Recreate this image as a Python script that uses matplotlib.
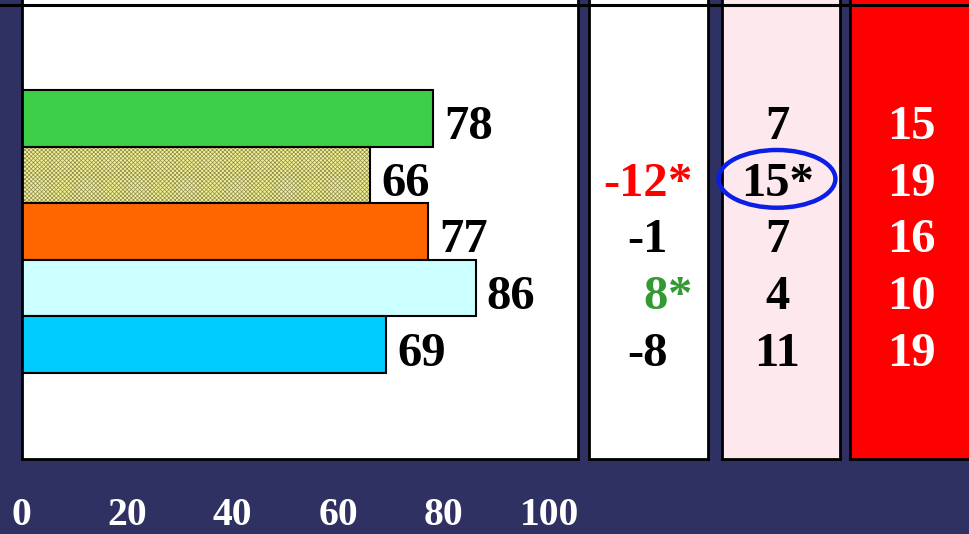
import matplotlib.pyplot as plt
from matplotlib.patches import Ellipse
from matplotlib.lines import Line2D
from matplotlib.transforms import blended_transform_factory

# data
scores = [78, 66, 77, 86, 69]
bar_colors = ['#3ecf48', '#f4f290', '#ff6600', '#ccffff', '#00ccff']
bar_hatch = [None, 'xxxxxxxx', None, None, None]
diffs = ['', '-12', '-1', '8', '-8']
diff_star = [False, True, False, True, False]
diff_colors = ['black', '#ff0000', 'black', '#339933', 'black']
col2 = ['7', '15*', '7', '4', '11']
col3 = ['15', '19', '16', '10', '19']
xticks = [0, 20, 40, 60, 80, 100]

W, H = 969, 534
BG = '#2f3163'
plt.rcParams['font.family'] = ['Liberation Serif', 'DejaVu Serif']
plt.rcParams['font.weight'] = 'bold'
plt.rcParams['hatch.linewidth'] = 0.5

fig = plt.figure(figsize=(W / 100, H / 100), dpi=100, facecolor=BG)


def box(x0, x1, ytop, ybot):
    return [x0 / W, (H - ybot) / H, (x1 - x0) / W, (ybot - ytop) / H]


ytop, ybot = -10, 459
unit = 56.6
ylo = -0.5 - (90 - ytop) / unit
yhi = ylo + (ybot - ytop) / unit
FS = 35
BASE = 0.37


def setup(ax, fc):
    ax.set_facecolor(fc)
    ax.set_ylim(yhi, ylo)
    ax.set_xticks([])
    ax.set_yticks([])
    for s in ax.spines.values():
        s.set_linewidth(2)
        s.set_color('black')


# main bar panel
ax = fig.add_axes(box(21.5, 578, ytop, ybot))
setup(ax, 'white')
ax.set_xlim(0, (578 - 21.5) / 5.28)
rows = list(range(len(scores)))
for i in rows:
    if bar_hatch[i]:
        # hatch in a muted olive, then the black outline on top
        ax.barh(i, scores[i], height=1.0, color=bar_colors[i], edgecolor='#8c8a58',
                linewidth=0, hatch=bar_hatch[i])
        ax.barh(i, scores[i], height=1.0, fill=False, edgecolor='black', linewidth=1.5)
    else:
        ax.barh(i, scores[i], height=1.0, color=bar_colors[i], edgecolor='black',
                linewidth=1.5)
    ax.text(scores[i] + 2.1, i + BASE, str(scores[i]), fontsize=FS,
            fontweight='bold', va='baseline', ha='left', color='black')

tb = blended_transform_factory(ax.transData, ax.transAxes)
for t in xticks:
    ax.text(t, (ybot - 525) / (ybot - ytop), str(t), transform=tb, fontsize=28.5,
            fontweight='bold', color='white', ha='center', va='baseline', clip_on=False)

# difference column
ax1 = fig.add_axes(box(589, 708, ytop, ybot))
setup(ax1, 'white')
ax1.set_xlim(0, 1)
for i in rows:
    if diffs[i] == '':
        continue
    ax1.text(0.66, i + BASE, diffs[i], fontsize=FS, fontweight='bold',
             color=diff_colors[i], ha='right', va='baseline')
    if diff_star[i]:
        ax1.text(0.667, i + BASE, '*', fontsize=FS, fontweight='bold',
                 color=diff_colors[i], ha='left', va='baseline')

# pink column
ax2 = fig.add_axes(box(722, 840, ytop, ybot))
setup(ax2, '#fde8ee')
ax2.set_xlim(0, 1)
for i in rows:
    ax2.text(0.47, i + BASE, col2[i], fontsize=FS, fontweight='bold',
             color='black', ha='center', va='baseline')
et = blended_transform_factory(ax2.transAxes, ax2.transData)
ax2.add_patch(Ellipse((0.466, 1.07), 0.99, 1.02, transform=et, fill=False,
                      edgecolor='#0a1ee6', linewidth=3.2, clip_on=False, zorder=5))

# red column
ax3 = fig.add_axes(box(850, 975, ytop, ybot))
setup(ax3, '#ff0000')
ax3.set_xlim(0, 1)
for i in rows:
    ax3.text(0.49, i + BASE, col3[i], fontsize=FS, fontweight='bold',
             color='white', ha='center', va='baseline')

fig.add_artist(Line2D([0, 1], [(H - 4.6) / H] * 2, transform=fig.transFigure,
                      color='black', linewidth=2.2, zorder=10))

fig.savefig('out.png', dpi=100, facecolor=BG)
